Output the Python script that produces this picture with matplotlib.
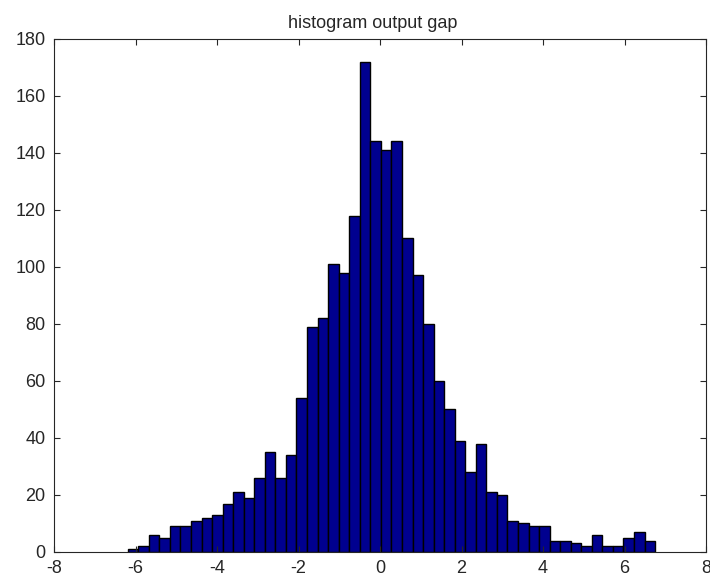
import numpy as np
import matplotlib
matplotlib.use("Agg")
import matplotlib.pyplot as plt

# Histogram counts (50 bins)
counts = [1, 2, 6, 5, 9, 9, 11, 12, 13, 17,
          21, 19, 26, 35, 26, 34, 54, 79, 82, 101,
          98, 118, 172, 144, 141, 144, 110, 97, 80, 60,
          50, 39, 28, 38, 21, 20, 11, 10, 9, 9,
          4, 4, 3, 2, 6, 2, 2, 5, 7, 4]
bin_start = -6.19
bin_end = 6.75
x_ticks = [-8, -6, -4, -2, 0, 2, 4, 6, 8]
y_ticks = [0, 20, 40, 60, 80, 100, 120, 140, 160, 180]
title = "histogram output gap"

plt.rcParams['font.family'] = ['Liberation Sans', 'DejaVu Sans']
plt.rcParams['axes.unicode_minus'] = False

edges = np.linspace(bin_start, bin_end, len(counts) + 1)
widths = np.diff(edges)

fig = plt.figure(figsize=(7.10, 5.77), dpi=100)
ax = fig.add_axes([54/710, 25/577, 652/710, 513.3/577])
ax.bar(edges[:-1], counts, width=widths, align='edge',
       color='#00008F', edgecolor='black', linewidth=1.0)
ax.set_xlim(-8, 8)
ax.set_ylim(0, 180)
ax.set_xticks(x_ticks)
ax.set_yticks(y_ticks)
ax.tick_params(direction='in', length=4.5, top=True, right=True,
               labelsize=13, colors='#262626', width=0.8)
ax.tick_params(axis='x', pad=6)
ax.tick_params(axis='y', pad=6)
for s in ax.spines.values():
    s.set_color('#262626')
    s.set_linewidth(0.8)
ax.set_title(title, fontsize=13, pad=8, color='#262626', x=0.489)
fig.savefig("out.png", dpi=100)
